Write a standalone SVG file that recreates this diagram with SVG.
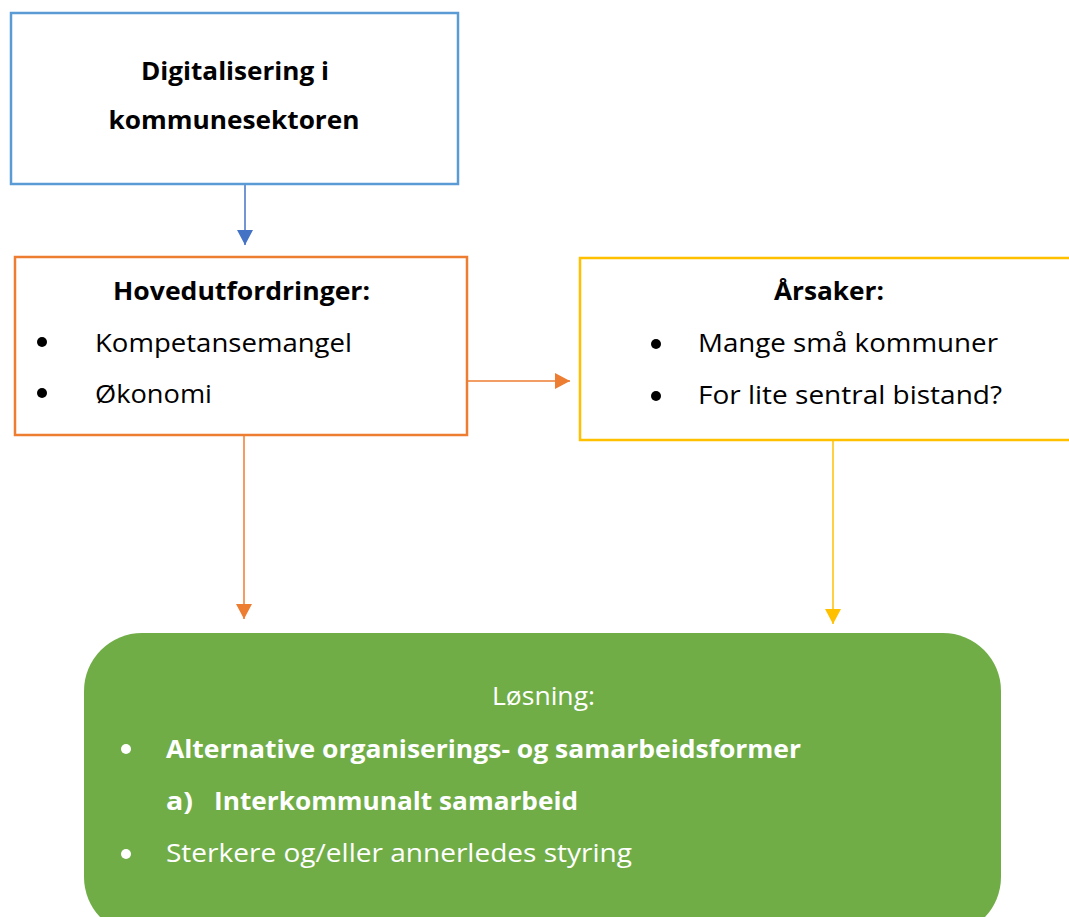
<svg xmlns="http://www.w3.org/2000/svg" width="1069" height="917" viewBox="0 0 1069 917">
<style>
.t{font-family:"Open Sans","Noto Sans","Liberation Sans",sans-serif;font-size:25px;fill:#000}
.b{font-weight:bold}
.w{fill:#fff}
.box{fill:#fff;stroke-width:2.5}
</style>
<defs>
<marker id="ab" markerWidth="16" markerHeight="16" refX="15" refY="8" orient="auto" markerUnits="userSpaceOnUse"><path d="M0,0 L15,8 L0,16 Z" fill="#4472C4"/></marker>
<marker id="ao" markerWidth="16" markerHeight="16" refX="15" refY="8" orient="auto" markerUnits="userSpaceOnUse"><path d="M0,0 L15,8 L0,16 Z" fill="#ED7D31"/></marker>
<marker id="ay" markerWidth="16" markerHeight="16" refX="15" refY="8" orient="auto" markerUnits="userSpaceOnUse"><path d="M0,0 L15,8 L0,16 Z" fill="#FFC000"/></marker>
</defs>
<g id="connectors" fill="none" stroke-width="1.5">
<line x1="245" y1="184" x2="245" y2="245" stroke="#4472C4" marker-end="url(#ab)"/>
<line x1="467" y1="381" x2="570" y2="381" stroke="#ED7D31" marker-end="url(#ao)"/>
<line x1="244" y1="435" x2="244" y2="619" stroke="#ED7D31" marker-end="url(#ao)"/>
<line x1="833" y1="440" x2="833" y2="624" stroke="#FFC000" marker-end="url(#ay)"/>
</g>
<g id="node-digitalisering">
<rect class="box" x="11" y="13" width="447" height="171" stroke="#5B9BD5"/>
<text class="t b" x="235" y="80" text-anchor="middle" textLength="188" lengthAdjust="spacingAndGlyphs">Digitalisering i</text>
<text class="t b" x="234" y="129" text-anchor="middle" textLength="251" lengthAdjust="spacingAndGlyphs">kommunesektoren</text>
</g>
<g id="node-hovedutfordringer">
<rect class="box" x="15" y="257" width="452" height="178" stroke="#ED7D31"/>
<text class="t b" x="113" y="300" textLength="257" lengthAdjust="spacingAndGlyphs">Hovedutfordringer:</text>
<circle cx="42" cy="342" r="5"/>
<text class="t" x="95" y="352" textLength="257" lengthAdjust="spacingAndGlyphs">Kompetansemangel</text>
<circle cx="42" cy="393" r="5"/>
<text class="t" x="95" y="403" textLength="117" lengthAdjust="spacingAndGlyphs">Økonomi</text>
</g>
<g id="node-arsaker">
<rect class="box" x="580" y="258" width="520" height="182" stroke="#FFC000"/>
<text class="t b" x="774" y="300" textLength="110" lengthAdjust="spacingAndGlyphs">Årsaker:</text>
<circle cx="656" cy="344" r="5"/>
<text class="t" x="698" y="352" textLength="300" lengthAdjust="spacingAndGlyphs">Mange små kommuner</text>
<circle cx="656" cy="396" r="5"/>
<text class="t" x="698" y="404" textLength="304" lengthAdjust="spacingAndGlyphs">For lite sentral bistand?</text>
</g>
<g id="node-losning">
<rect x="84" y="633" width="917" height="302" rx="58" ry="58" fill="#70AD47"/>
<text class="t w" x="492" y="705" textLength="103" lengthAdjust="spacingAndGlyphs">Løsning:</text>
<circle cx="126" cy="749" r="5" fill="#fff"/>
<text class="t b w" x="166" y="758" textLength="635" lengthAdjust="spacingAndGlyphs">Alternative organiserings- og samarbeidsformer</text>
<text class="t b w" x="166" y="810" textLength="27" lengthAdjust="spacingAndGlyphs">a)</text>
<text class="t b w" x="214" y="810" textLength="364" lengthAdjust="spacingAndGlyphs">Interkommunalt samarbeid</text>
<circle cx="126" cy="854" r="5" fill="#fff"/>
<text class="t w" x="166" y="862" textLength="466" lengthAdjust="spacingAndGlyphs">Sterkere og/eller annerledes styring</text>
</g>
</svg>
